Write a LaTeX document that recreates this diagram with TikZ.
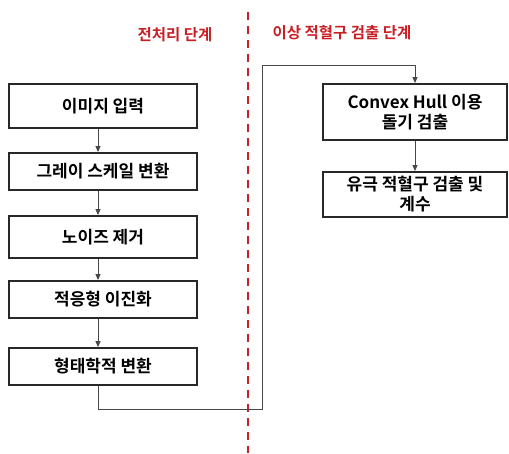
\documentclass[tikz,border=0pt]{standalone}
\usepackage{fontspec}
\setmainfont{Noto Sans CJK KR}[BoldFont={* Bold}]
\newfontfamily\kr{Noto Sans CJK KR Bold}
\usetikzlibrary{arrows.meta}
\definecolor{stagered}{RGB}{200,32,38}
\definecolor{boxline}{RGB}{40,40,40}
\tikzset{
  procbox/.style={draw=boxline, line width=1.8pt, font=\kr\fontsize{17}{20}\selectfont, align=center, inner sep=0pt},
  flow/.style={draw=boxline!85, line width=1pt, -{Triangle[length=6pt,width=5pt]}},
  stagelabel/.style={text=stagered, font=\kr\fontsize{15.5}{18}\selectfont},
}
\begin{document}
\begin{tikzpicture}[x=1pt,y=-1pt]
\useasboundingbox (0,0) rectangle (509,453);
% divider
\draw[stagered, line width=2.8pt, dash pattern=on 8pt off 6pt] (248,12) -- (248,453);
\node[stagelabel] (lbl1) at (175,35) {전처리 단계};
\node[stagelabel] (lbl2) at (342,33) {이상 적혈구 검출 단계};
% left boxes
\node[procbox, minimum width=188pt, minimum height=44pt] (b1) at (103,106) {이미지 입력};
\node[procbox, minimum width=188pt, minimum height=37pt] (b2) at (103,171.5) {그레이 스케일 변환};
\node[procbox, minimum width=188pt, minimum height=42pt] (b3) at (103,237) {노이즈 제거};
\node[procbox, minimum width=188pt, minimum height=37pt] (b4) at (103,299.5) {적응형 이진화};
\node[procbox, minimum width=188pt, minimum height=37pt] (b5) at (103,366.5) {형태학적 변환};
% right boxes
\node[procbox, minimum width=184pt, minimum height=56pt] (b6) at (415,112) {Convex Hull 이용\\돌기 검출};
\node[procbox, minimum width=184pt, minimum height=45pt] (b7) at (415,194.5) {유극 적혈구 검출 및\\계수};
% connectors
\draw[flow] (b1.south -| 98,0) -- (b2.north -| 98,0);
\draw[flow] (b2.south -| 98,0) -- (b3.north -| 98,0);
\draw[flow] (b3.south -| 98,0) -- (b4.north -| 98,0);
\draw[flow] (b4.south -| 98,0) -- (b5.north -| 98,0);
\coordinate (c1) at (98,409);
\coordinate (c2) at (262,409);
\coordinate (c3) at (262,65);
\coordinate (c4) at (415,65);
\draw[flow] (b5.south -| 98,0) -- (c1) -- (c2) -- (c3) -- (c4) -- (b6.north);
\draw[flow] (b6.south) -- (b7.north);
\end{tikzpicture}
\end{document}
